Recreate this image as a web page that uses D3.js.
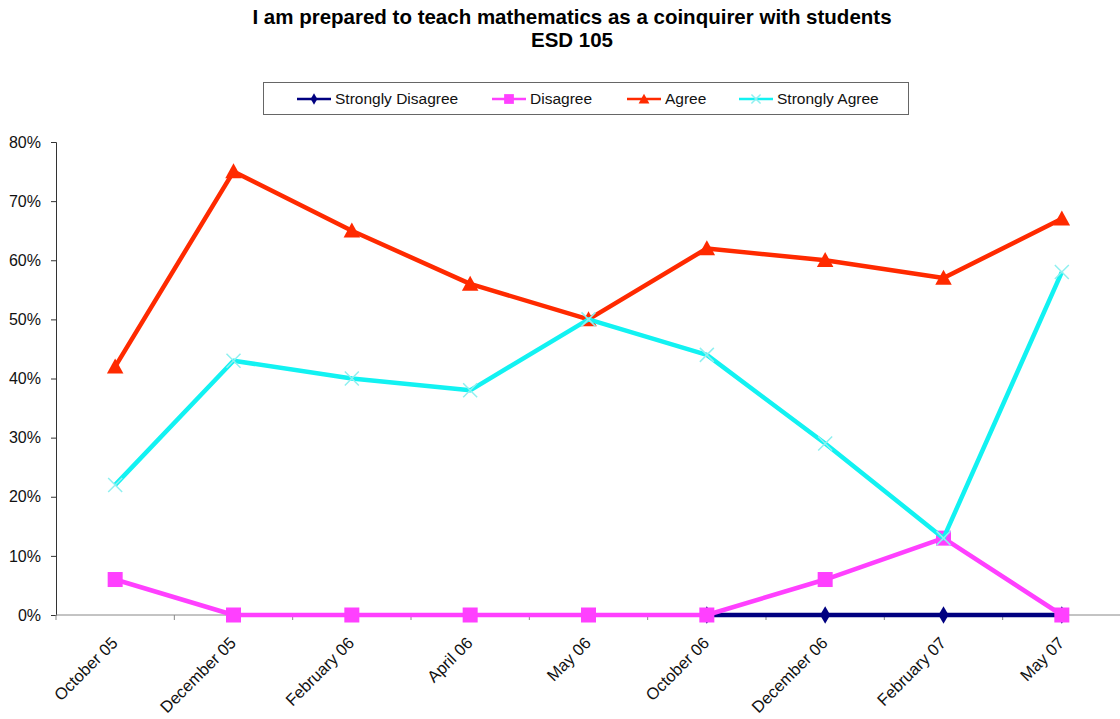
<!doctype html>
<html lang="en">
<head>
  <meta charset="utf-8">
  <title>Coinquirer - ESD 105</title>
  <script type="text/javascript" src="https://cdnjs.cloudflare.com/ajax/libs/d3/7.8.5/d3.min.js"></script>
  <style>
    body { margin: 0; background: #fff; }
    text { font-family: "Liberation Sans", Arial, sans-serif; }
  </style>
</head>
<body>
  <svg width="1120" height="719" id="svg"></svg>
</body>

<script type="text/javascript">

  // data
  var categories = ['October 05', 'December 05', 'February 06', 'April 06', 'May 06',
                    'October 06', 'December 06', 'February 07', 'May 07'];

  var stronglyDisagree = [null, null, null, null, null, 0, 0, 0, 0];
  var disagree         = [6, 0, 0, 0, 0, 0, 6, 13, 0];
  var agree            = [42, 75, 65, 56, 50, 62, 60, 57, 67];
  var stronglyAgree    = [22, 43, 40, 38, 50, 44, 29, 13, 58];

  var seriesNames = ['Strongly Disagree', 'Disagree', 'Agree', 'Strongly Agree'];
  var yTicks = [0, 10, 20, 30, 40, 50, 60, 70, 80];

  var series = [
    {name: seriesNames[0], values: stronglyDisagree, color: '#000080', marker: 'diamond'},
    {name: seriesNames[1], values: disagree, color: '#ff40ff', marker: 'square'},
    {name: seriesNames[2], values: agree, color: '#ff2a00', marker: 'triangle'},
    {name: seriesNames[3], values: stronglyAgree, color: '#12f2f2', marker: 'cross'}
  ];

  var plotLeft = 56, plotRight = 1121, plotTop = 142, plotBottom = 615;

  var svg = d3.select('#svg');

  var x = d3.scaleBand()
    .domain(categories)
    .range([plotLeft, plotRight]);

  var y = d3.scaleLinear()
    .domain([0, 80])
    .range([plotBottom, plotTop]);

  // title
  var title = svg.append('text')
    .attr('text-anchor', 'middle')
    .style('font-size', '20.5px')
    .style('font-weight', 'bold')
    .attr('fill', '#000');
  title.append('tspan').attr('x', 572).attr('y', 24)
    .text('I am prepared to teach mathematics as a coinquirer with students');
  title.append('tspan').attr('x', 572).attr('y', 47).text('ESD 105');

  // y axis
  var yAxis = svg.append('g')
    .attr('transform', 'translate(' + plotLeft + ',0)')
    .call(d3.axisLeft(y).tickValues(yTicks).tickSize(5).tickPadding(10)
      .tickFormat(function(d) { return d + '%'; }));
  yAxis.select('.domain').attr('stroke', '#333');
  yAxis.selectAll('.tick line').attr('stroke', '#333');
  yAxis.selectAll('text').style('font-size', '16px').attr('fill', '#111')
    .style('font-family', '"Liberation Sans", Arial, sans-serif');

  // x axis
  var xAxis = svg.append('g')
    .attr('transform', 'translate(0,' + plotBottom + ')');
  xAxis.append('line')
    .attr('x1', plotLeft).attr('x2', plotRight)
    .attr('stroke', '#888');
  xAxis.selectAll('.tk')
    .data(categories)
    .enter()
    .append('line')
    .attr('x1', function(d) { return x(d); })
    .attr('x2', function(d) { return x(d); })
    .attr('y1', 0).attr('y2', 5)
    .attr('stroke', '#888');
  xAxis.selectAll('text')
    .data(categories)
    .enter()
    .append('text')
    .attr('transform', function(d) {
      return 'translate(' + (x(d) + x.bandwidth() / 2 + 3.5) + ',29) rotate(-45)';
    })
    .attr('text-anchor', 'end')
    .style('font-size', '16.5px')
    .attr('fill', '#111')
    .text(function(d) { return d; });

  var cx = function(i) { return x(categories[i]) + x.bandwidth() / 2; };

  var line = d3.line()
    .defined(function(d) { return d != null; })
    .x(function(d, i) { return cx(i); })
    .y(function(d) { return y(d); });

  function drawMarker(g, type, color, px, py, scale) {
    scale = scale || 1;
    if (type === 'diamond') {
      g.append('path')
        .attr('d', d3.symbol().type(d3.symbolDiamond).size(90 * scale * scale)())
        .attr('transform', 'translate(' + px + ',' + py + ')')
        .attr('fill', color);
    } else if (type === 'square') {
      var s = 15 * scale;
      g.append('rect')
        .attr('x', px - s / 2).attr('y', py - s / 2)
        .attr('width', s).attr('height', s)
        .attr('fill', color);
    } else if (type === 'triangle') {
      var h = 15 * scale;
      g.append('path')
        .attr('d', 'M' + px + ',' + (py - h * 0.55) + 'L' + (px + h * 0.55) + ',' + (py + h * 0.45) +
          'L' + (px - h * 0.55) + ',' + (py + h * 0.45) + 'Z')
        .attr('fill', color);
    } else if (type === 'cross') {
      var c = 7 * scale;
      g.append('path')
        .attr('d', 'M' + (px - c) + ',' + (py - c) + 'L' + (px + c) + ',' + (py + c) +
          'M' + (px - c) + ',' + (py + c) + 'L' + (px + c) + ',' + (py - c))
        .attr('stroke', '#8ff0f0')
        .attr('stroke-width', 1.5)
        .attr('fill', 'none');
    }
  }

  // lines and markers
  series.forEach(function(s) {
    var g = svg.append('g');
    g.append('path')
      .datum(s.values)
      .attr('d', line)
      .attr('fill', 'none')
      .attr('stroke', s.color)
      .attr('stroke-width', 4.5)
      .attr('stroke-linejoin', 'round');
    s.values.forEach(function(v, i) {
      if (v == null) return;
      drawMarker(g, s.marker, s.color, cx(i), y(v));
    });
  });

  // legend
  var legend = svg.append('g');
  legend.append('rect')
    .attr('x', 263.5).attr('y', 82.5)
    .attr('width', 645).attr('height', 32)
    .attr('fill', '#fff')
    .attr('stroke', '#666');

  var legendX = [297, 492, 627, 739];
  series.forEach(function(s, i) {
    var lx = legendX[i];
    legend.append('line')
      .attr('x1', lx).attr('x2', lx + 34)
      .attr('y1', 99).attr('y2', 99)
      .attr('stroke', s.color)
      .attr('stroke-width', 2.5);
    drawMarker(legend, s.marker, s.color, lx + 17, 99, 0.65);
    legend.append('text')
      .attr('x', lx + 38)
      .attr('y', 99)
      .attr('dy', '0.35em')
      .style('font-size', '15.5px')
      .attr('fill', '#111')
      .text(s.name);
  });

</script>
</html>
